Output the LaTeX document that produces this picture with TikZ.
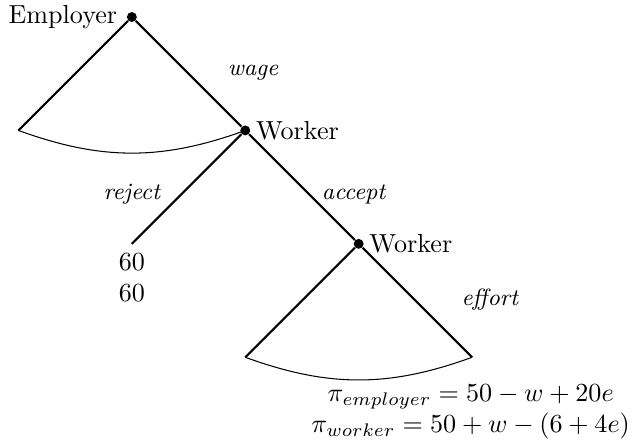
\documentclass[tikz,border=0pt]{standalone}
\usetikzlibrary{positioning}
\tikzset{
  dot/.style={circle,fill=black,inner sep=0pt,minimum size=3.8pt},
  move/.style={thick},
  infoset/.style={line width=0.4pt},
  act/.style={font=\small\itshape},
  pay/.style={align=center},
}
\begin{document}
\begin{tikzpicture}[scale=0.955]
  \useasboundingbox (-1.86,0.24) rectangle (7.07,-6.06);
  % decision nodes
  \node[dot,label=left:Employer] (emp) at (0,0) {};
  \node[dot,label={[label distance=-1.5pt]right:Worker}] (w1) at (1.6,-1.6) {};
  \node[dot,label={[label distance=-1.5pt]right:Worker}] (w2) at (3.2,-3.2) {};
  % ends of the branches
  \coordinate (fanA) at (-1.6,-1.6);
  \coordinate (rej) at (0,-3.2);
  \coordinate (fanL) at (1.6,-4.8);
  \coordinate (fanR) at (4.8,-4.8);
  \draw[move] (emp) -- (fanA);
  \draw[move] (emp) -- (w1);
  \draw[move] (w1) -- (rej);
  \draw[move] (w1) -- (w2);
  \draw[move] (w2) -- (fanL);
  \draw[move] (w2) -- (fanR);
  % continuum of choices
  \draw[infoset] (fanA) to[bend right=20] (w1.center);
  \draw[infoset] (fanL) to[bend right=20] (fanR);
  % actions
  \node[act] (wage) at (1.71,-0.78) {wage};
  \node[act] (reject) at (0,-2.5) {reject};
  \node[act] (accept) at (3.13,-2.5) {accept};
  \node[act] (effort) at (5.05,-3.99) {effort};
  % payoffs
  \node[pay,below=0pt of rej] (payR) {60\\60};
  \node[pay] (payA) at (4.78,-5.57) {$\pi_{employer}=50-w+20e$\\$\pi_{worker}=50+w-(6+4e)$};
\end{tikzpicture}
\end{document}
